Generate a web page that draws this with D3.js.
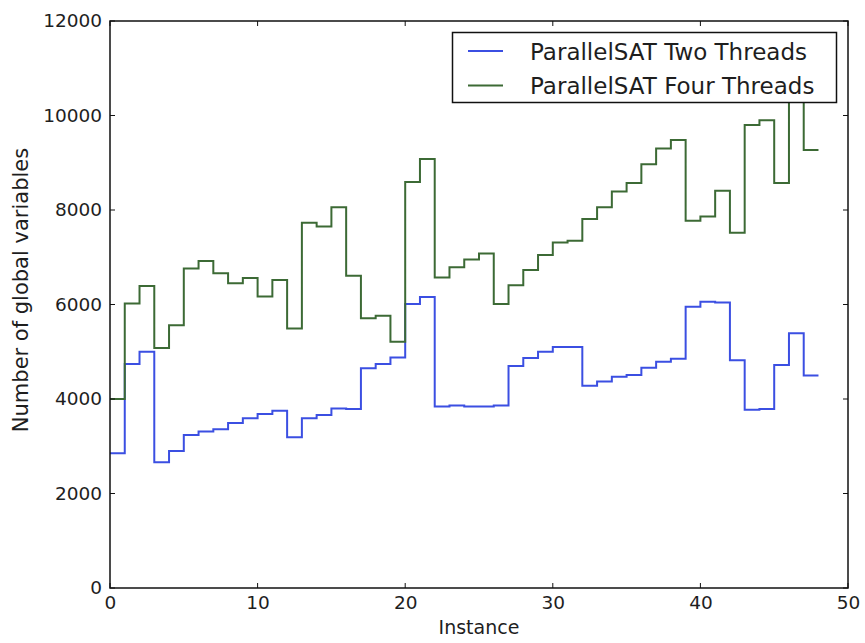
<!DOCTYPE html>
<html>
<head>
<meta charset="utf-8">
<script src="https://cdn.jsdelivr.net/npm/d3@7"></script>
<style>
  html, body { margin: 0; padding: 0; background: #fff; }
  svg { display: block; }
  text { font-family: "DejaVu Sans", sans-serif; fill: #1e1e1e; }
</style>
</head>
<body>
<svg id="chart" width="865" height="643"></svg>
<script>
// ---- data ----
const instances = [1,2,3,4,5,6,7,8,9,10,11,12,13,14,15,16,17,18,19,20,21,22,23,24,
                   25,26,27,28,29,30,31,32,33,34,35,36,37,38,39,40,41,42,43,44,45,46,47,48];
const twoThreads = [2850,4740,5000,2660,2900,3240,3310,3360,3490,3590,3680,3750,3190,3590,3660,3800,
                    3790,4650,4740,4880,6010,6160,3840,3860,3840,3840,3860,4700,4870,5000,5100,5100,
                    4280,4370,4470,4510,4660,4790,4850,5950,6060,6040,4820,3770,3790,4720,5390,4500];
const fourThreads = [4000,6020,6390,5080,5560,6760,6920,6660,6450,6560,6170,6520,5490,7730,7650,8060,
                     6610,5710,5760,5210,8590,9080,6570,6790,6950,7080,6010,6410,6730,7050,7310,7350,
                     7810,8060,8390,8570,8970,9300,9480,7770,7860,8410,7520,9800,9900,8570,10800,9270];
const seriesNames = ["ParallelSAT Two Threads", "ParallelSAT Four Threads"];
const seriesColors = ["#3b4fe2", "#3c6a35"];
const xTicks = [0, 10, 20, 30, 40, 50];
const yTicks = [0, 2000, 4000, 6000, 8000, 10000, 12000];
const xLabel = "Instance";
const yLabel = "Number of global variables";

// ---- layout ----
const svg = d3.select("#chart");
const L = 110, R = 848, T = 21, B = 588;
const x = d3.scaleLinear().domain([0, 50]).range([L, R]);
const y = d3.scaleLinear().domain([0, 12000]).range([B, T]);

// ---- series (matplotlib "steps": value i spans [instance-1, instance]) ----
const line = d3.line().x(d => x(d[0])).y(d => y(d[1])).curve(d3.curveStepBefore);
[twoThreads, fourThreads].forEach((vals, k) => {
  const pts = [[instances[0] - 1, vals[0]]].concat(instances.map((xi, i) => [xi, vals[i]]));
  svg.append("path")
    .attr("d", line(pts))
    .attr("fill", "none")
    .attr("stroke", seriesColors[k])
    .attr("stroke-width", 2)
    .attr("stroke-linejoin", "miter");
});

// ---- axes (ticks inside on all four sides) ----
const tickLen = 5;
const fmt = d3.format("d");
const axBottom = d3.axisBottom(x).tickValues(xTicks).tickFormat(fmt).tickSize(0).tickPadding(6);
const axLeft = d3.axisLeft(y).tickValues(yTicks).tickFormat(fmt).tickSize(0).tickPadding(8);
const gx = svg.append("g").attr("transform", `translate(0,${B})`).call(axBottom);
const gy = svg.append("g").attr("transform", `translate(${L},0)`).call(axLeft);
[gx, gy].forEach(g => {
  g.select(".domain").remove();
  g.selectAll("text").style("font-size", "18.5px").style("font-family", "DejaVu Sans, sans-serif").attr("fill", "#1e1e1e");
});
gx.selectAll("text").attr("dy", "0.8em");

const tk = svg.append("g").attr("stroke", "#111").attr("stroke-width", 1);
xTicks.forEach(v => {
  tk.append("line").attr("x1", x(v)).attr("x2", x(v)).attr("y1", B).attr("y2", B - tickLen);
  tk.append("line").attr("x1", x(v)).attr("x2", x(v)).attr("y1", T).attr("y2", T + tickLen);
});
yTicks.forEach(v => {
  tk.append("line").attr("x1", L).attr("x2", L + tickLen).attr("y1", y(v)).attr("y2", y(v));
  tk.append("line").attr("x1", R).attr("x2", R - tickLen).attr("y1", y(v)).attr("y2", y(v));
});

// frame
svg.append("rect").attr("x", L).attr("y", T).attr("width", R - L).attr("height", B - T)
  .attr("fill", "none").attr("stroke", "#111").attr("stroke-width", 1.5);

// axis labels
svg.append("text").attr("x", (L + R) / 2).attr("y", 634).attr("text-anchor", "middle")
  .style("font-size", "19px").text(xLabel);
svg.append("text").attr("transform", `translate(28,290) rotate(-90)`)
  .attr("text-anchor", "middle").style("font-size", "21px").text(yLabel);

// ---- legend ----
const lg = svg.append("g");
lg.append("rect").attr("x", 452.5).attr("y", 32.5).attr("width", 384).attr("height", 70)
  .attr("fill", "#fff").attr("stroke", "#111").attr("stroke-width", 1.5);
seriesNames.forEach((name, k) => {
  const yy = 51 + k * 34.5;
  lg.append("line").attr("x1", 468).attr("x2", 503).attr("y1", yy).attr("y2", yy)
    .attr("stroke", seriesColors[k]).attr("stroke-width", 2);
  lg.append("text").attr("x", 530).attr("y", yy + 8.5).style("font-size", "23px").text(name);
});
</script>
</body>
</html>
